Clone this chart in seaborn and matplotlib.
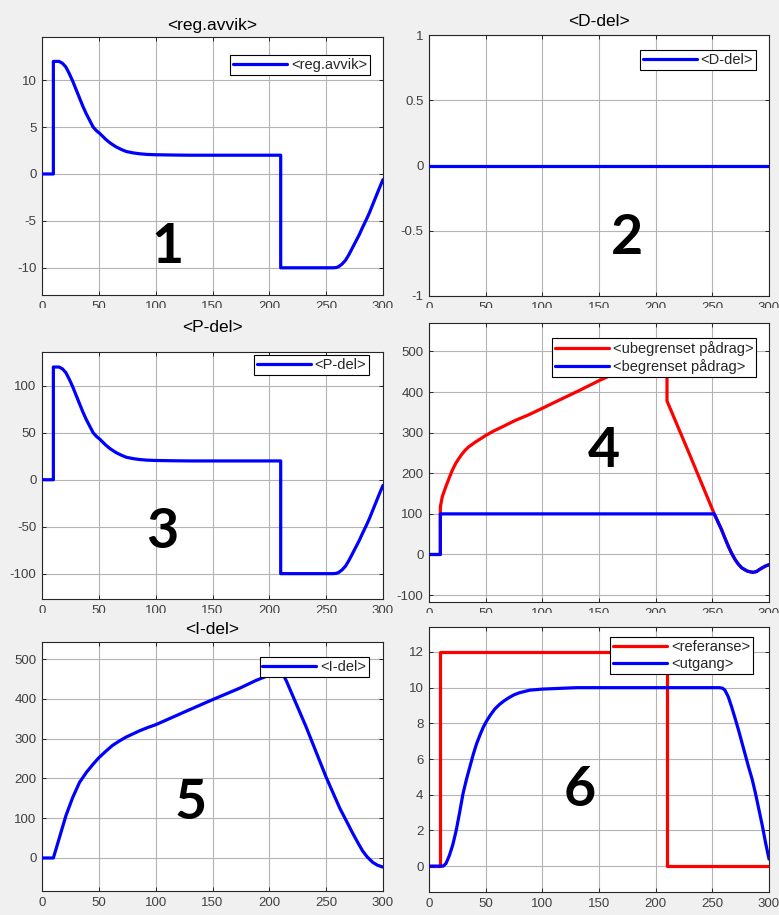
import matplotlib
matplotlib.use("Agg")
import matplotlib.pyplot as plt
import seaborn as sns
import pandas as pd
from matplotlib.patches import Rectangle

# ---------------- data ----------------
x_ticks = [0, 50, 100, 150, 200, 250, 300]
x_tick_labels = ["0", "50", "100", "150", "200", "250", "300"]

# 1: regulation error
t_err = [0, 10, 10, 15, 18, 21, 24, 27, 30, 33, 36, 39, 42, 45, 48, 51, 56, 60, 65, 70, 74, 80, 86, 93,
         100, 115, 130, 150, 180, 210, 210, 230, 256, 259, 261, 264, 267, 270, 273, 276, 279, 282, 285,
         288, 291, 294, 297, 300]
err = [0, 0, 12, 12.0, 11.8, 11.4, 10.7, 9.9, 9.0, 8.1, 7.2, 6.4, 5.7, 5.0, 4.6, 4.3, 3.7, 3.3, 2.9, 2.6,
       2.4, 2.25, 2.15, 2.08, 2.05, 2.02, 2.0, 2.0, 2.0, 2.0, -10, -10, -10, -9.97, -9.87, -9.6, -9.2,
       -8.6, -7.9, -7.2, -6.5, -5.7, -4.95, -4.15, -3.25, -2.35, -1.45, -0.6]

# 2: D-part
t_d = [0, 300]
d_part = [0, 0]

# 3: P-part
t_p = t_err
p_part = [0, 0, 120, 120, 118, 114, 107, 99, 90, 81, 72, 64, 57, 50, 46, 43, 37, 33, 29, 26,
          24, 22.5, 21.5, 20.8, 20.5, 20.2, 20, 20, 20, 20, -100, -100, -100, -99.7, -98.7, -96, -92,
          -86, -79, -72, -65, -57, -49.5, -41.5, -32.5, -23.5, -14.5, -6]

# 4: unlimited / limited control signal
t_u = [0, 10, 10, 11.7, 14.7, 17.6, 20.5, 23.5, 26.5, 29.3, 32, 35, 38, 41, 45, 50, 57, 64.5, 76, 88,
       100, 117, 132, 150, 175, 200, 210, 210, 230, 251.7, 255, 258, 261, 264, 267, 270, 273, 276,
       279, 281, 284, 286, 289, 291.6, 294, 296.5, 300]
u_unlim = [0, 0, 117, 142, 166, 187, 207, 224, 237, 248, 257, 265, 271, 277, 284, 293, 304, 314, 330,
           344, 360, 383, 403, 428, 460, 481, 494, 378, 246, 100, 80, 62, 41, 21, 3, -12, -24, -33,
           -38, -41, -43, -44, -42, -37, -33, -29, -25]
t_b = [0, 10, 10, 251.7, 255, 258, 261, 264, 267, 270, 273, 276, 279, 281, 284, 286, 289, 291.6, 294,
       296.5, 300]
u_lim = [0, 0, 100, 100, 80, 62, 41, 21, 3, -12, -24, -33, -38, -41, -43, -44, -42, -37, -33, -29, -25]

# 5: I-part
t_i = [0, 10, 15, 21, 27, 33, 39, 45, 50, 56, 62, 68, 74, 80, 86, 93, 100, 115, 130, 150, 174, 188,
       200, 210, 215, 232, 250, 262, 268, 273, 278, 282, 286, 291, 295, 300]
i_part = [0, 0, 48, 106, 152, 190, 215, 236, 252, 268, 283, 294, 304, 312, 320, 328, 335, 354, 373,
          398, 427, 446, 460, 474, 445, 332, 203, 125, 92, 64, 38, 18, 3, -11, -18, -23]

# 6: reference and output
t_r = [0, 10, 10, 210, 210, 300]
ref = [0, 0, 12, 12, 0, 0]
t_y = [0, 12.5, 15, 18, 21, 24, 27, 30, 33, 36, 39, 42, 45, 48, 51, 54, 58, 62, 66, 70, 75, 80, 89,
       100, 115, 130, 256, 259, 261, 264, 267, 270, 273, 276, 279, 282, 285, 288, 291, 294, 297, 300]
y_out = [0, 0, 0.15, 0.6, 1.2, 2.0, 3.0, 4.06, 4.85, 5.55, 6.25, 6.86, 7.35, 7.8, 8.15, 8.45, 8.8,
         9.05, 9.25, 9.42, 9.6, 9.72, 9.86, 9.92, 9.96, 10, 10, 9.97, 9.87, 9.5, 8.93, 8.3, 7.65,
         6.95, 6.25, 5.55, 4.9, 4.1, 3.2, 2.3, 1.3, 0.4]

titles = ["<reg.avvik>", "<D-del>", "<P-del>", "", "<I-del>", ""]
panel_numbers = ["1", "2", "3", "4", "5", "6"]

y_ticks = [[-10, -5, 0, 5, 10], [-1, -0.5, 0, 0.5, 1], [-100, -50, 0, 50, 100],
           [-100, 0, 100, 200, 300, 400, 500], [0, 100, 200, 300, 400, 500], [0, 2, 4, 6, 8, 10, 12]]
y_tick_labels = [["-10", "-5", "0", "5", "10"], ["-1", "-0.5", "0", "0.5", "1"],
                 ["-100", "-50", "0", "50", "100"],
                 ["-100", "0", "100", "200", "300", "400", "500"],
                 ["0", "100", "200", "300", "400", "500"],
                 ["0", "2", "4", "6", "8", "10", "12"]]

# ---------------- styling / layout ----------------
sns.set_theme(style="whitegrid")
plt.rcParams["font.family"] = ["Liberation Sans", "DejaVu Sans"]
plt.rcParams["axes.unicode_minus"] = False

W, H = 779, 915
BG = "#f0f0f0"
BLUE = "#0000ff"
RED = "#ff0000"
LW = 2.3

fig = plt.figure(figsize=(W / 100, H / 100), dpi=100, facecolor=BG)

# (left, right, top, bottom) in pixels
boxes = [(42, 383, 37, 295), (429, 769, 35, 296), (42, 383, 352, 599),
         (429, 769, 323, 602), (42, 383, 642, 891), (429, 769, 627, 892)]
ylims = [(-12.9, 14.6), (-1, 1), (-127, 136), (-117, 570), (-83, 543), (-1.45, 13.4)]
title_pos = [(212.5, 30), (599, 26), (212.5, 332), None, (212.5, 634), None]
legend_anchor = [(0.962, 0.930), (0.962, 0.943), (0.959, 0.988), (0.962, 0.946),
                 (0.959, 0.940), (0.953, 0.962)]
number_pos = [(168, 247), (627, 238), (162, 532), (604, 451), (191, 803), (580, 790)]

axes = []
for (l, r, t, b) in boxes:
    ax = fig.add_axes([l / W, 1 - b / H, (r - l) / W, (b - t) / H])
    axes.append(ax)

series = [
    [(t_err, err, "<reg.avvik>", BLUE)],
    [(t_d, d_part, "<D-del>", BLUE)],
    [(t_p, p_part, "<P-del>", BLUE)],
    [(t_u, u_unlim, "<ubegrenset pådrag>", RED), (t_b, u_lim, "<begrenset pådrag>", BLUE)],
    [(t_i, i_part, "<I-del>", BLUE)],
    [(t_r, ref, "<referanse>", RED), (t_y, y_out, "<utgang>", BLUE)],
]

for k, ax in enumerate(axes):
    ax.set_facecolor("white")
    for (tx, vy, lab, col) in series[k]:
        df = pd.DataFrame({"t": tx, "v": vy})
        sns.lineplot(data=df, x="t", y="v", ax=ax, color=col, lw=LW, label=lab,
                     estimator=None, sort=False, zorder=3)
    ax.set_xlim(0, 300)
    ax.set_ylim(*ylims[k])
    ax.set_xticks(x_ticks)
    ax.set_xticklabels(x_tick_labels)
    ax.set_yticks(y_ticks[k])
    ax.set_yticklabels(y_tick_labels[k])
    ax.set_xlabel("")
    ax.set_ylabel("")
    ax.grid(True, color="#b4b4b4", lw=0.8)
    ax.tick_params(axis="both", which="both", direction="in", length=3, width=0.7,
                   colors="#262626", labelcolor="#404040", labelsize=9.5,
                   top=True, right=True, bottom=True, left=True, pad=4)
    for sp in ax.spines.values():
        sp.set_visible(True)
        sp.set_color("#262626")
        sp.set_linewidth(0.8)
    leg = ax.legend(loc="upper right", bbox_to_anchor=legend_anchor[k], borderaxespad=0,
                    fontsize=10.5, frameon=True, fancybox=False, framealpha=1,
                    edgecolor="black", handlelength=3.7, handletextpad=0.25,
                    borderpad=0.2, labelspacing=0.2)
    leg.get_frame().set_linewidth(0.8)
    leg.set_zorder(5)
    nx, ny = number_pos[k]
    ax.text(nx / W, 1 - ny / H, panel_numbers[k], transform=fig.transFigure,
            fontsize=40, fontweight="bold", family=["Lato", "DejaVu Sans"],
            color="black", ha="center", va="center", zorder=4)
    if title_pos[k] is not None:
        tx_, ty_ = title_pos[k]
        fig.text(tx_ / W, 1 - ty_ / H, titles[k], fontsize=12.5, color="black",
                 ha="center", va="baseline")

# bands that hide the lower half of the upper rows' x tick labels (as in the reference)
for (y0, y1) in [(308, 317), (613, 621)]:
    fig.patches.append(Rectangle((0, 1 - y1 / H), 1, (y1 - y0) / H, transform=fig.transFigure,
                                 facecolor=BG, edgecolor="none", zorder=10))

fig.savefig("out.png", dpi=100, facecolor=BG)
